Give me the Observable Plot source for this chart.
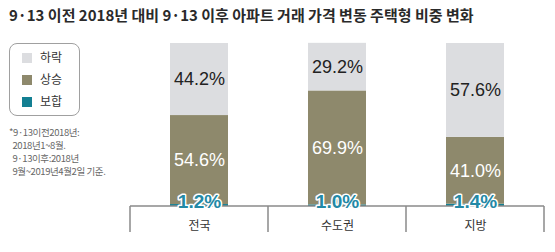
<!DOCTYPE html>
<html><head><meta charset="utf-8">
<script src="https://cdn.jsdelivr.net/npm/d3@7"></script>
<script src="https://cdn.jsdelivr.net/npm/@observablehq/plot@0.6"></script>
<style>
body{margin:0;background:#fff;font-family:"Noto Sans CJK KR","Noto Sans",sans-serif;}
#wrap{position:relative;width:555px;height:252px;overflow:hidden;}
#title{height:30px;line-height:29px;padding-left:9px;font-size:15px;font-weight:bold;color:#2a2a2a;letter-spacing:0px;white-space:nowrap;}
#legend{position:absolute;left:9px;top:43px;width:71px;height:73px;border:1px solid #a0a0a0;border-radius:8px;box-sizing:border-box;}
.li{position:absolute;left:12px;height:14px;font-size:12px;line-height:14px;color:#333;}
.li span{display:inline-block;width:10px;height:10px;margin-right:8px;vertical-align:-1px;}
#note{position:absolute;left:9px;top:126px;font-size:9.5px;line-height:13px;color:#666;letter-spacing:-0.4px;white-space:nowrap;}
</style></head>
<body>
<div id="wrap">
<div id="title">9·13 이전 2018년 대비 9·13 이후 아파트 거래 가격 변동 주택형 비중 변화</div>
<div id="chart"></div>
<div id="legend"></div>
<div id="note">*9·13이전2018년:<br>&nbsp;&nbsp;2018년1~8월.<br>&nbsp;&nbsp;9·13이후:2018년<br>&nbsp;&nbsp;9월~2019년4월2일 기준.</div>
</div>
<script>
const regions = ["전국", "수도권", "지방"];
const types = ["보합", "상승", "하락"];
const bohap = [1.2, 1.0, 1.4];
const sangseung = [54.6, 69.9, 41.0];
const harak = [44.2, 29.2, 57.6];
const colors = ["#137f92", "#8e896c", "#dcdde0"];
const legendOrder = ["하락", "상승", "보합"];

const series = [bohap, sangseung, harak];
const data = [];
types.forEach((t, ti) => regions.forEach((r, ri) => data.push({region: r, type: t, value: series[ti][ri]})));

const W = 555, H = 222;
const narrow = '"Liberation Sans Narrow","Arial Narrow","Liberation Sans",sans-serif';

function separators(index, scales, values, dims) {
  const x = scales.x, y = scales.y;
  const step = x.step();
  const g = d3.create("svg:g").attr("stroke", "#8a8a8a").attr("stroke-width", 1.5);
  const edges = regions.map(r => x(r) + x.bandwidth()/2 - step/2);
  edges.push(x(regions[regions.length-1]) + x.bandwidth()/2 + step/2);
  const y0 = y(0);
  g.append("line").attr("x1", edges[0]).attr("x2", edges[edges.length-1]).attr("y1", y0).attr("y2", y0);
  edges.forEach(e => g.append("line").attr("x1", e).attr("x2", e).attr("y1", y0).attr("y2", dims.height - 20));
  return g.node();
}

const chart = Plot.plot({
  width: W, height: H,
  marginLeft: 130, marginRight: 11, marginTop: 13, marginBottom: 46,
  x: {domain: regions, paddingInner: 0.58, paddingOuter: 0.29, axis: null},
  y: {domain: [0, 100], axis: null},
  color: {domain: types, range: colors},
  style: {fontFamily: '"Noto Sans CJK KR",sans-serif', overflow: "visible"},
  marks: [
    Plot.barY(data, Plot.stackY({x: "region", y: "value", fill: "type", order: types})),
    separators,
    Plot.text(data, Plot.stackY({x: "region", y: "value", z: "type", order: types,
      text: d => d.type === "보합" ? "" : d.value.toFixed(1) + "%",
      fill: d => d.type === "하락" ? "#222" : "#fff",
      fontSize: 18, fontFamily: narrow})),
    Plot.text(data.filter(d => d.type === "보합"), {x: "region", y: 0, dy: -5, text: d => d.value.toFixed(1) + "%",
      fill: "#2389a6", stroke: "#fff", strokeWidth: 3, paintOrder: "stroke", fontWeight: "bold", fontSize: 19, fontFamily: narrow}),
    Plot.text(regions, {x: d => d, y: 0, dy: 20, text: d => d, fill: "#333", fontSize: 12})
  ]
});
document.getElementById("chart").appendChild(chart);

const leg = document.getElementById("legend");
legendOrder.forEach((t, i) => {
  const el = document.createElement("div");
  el.className = "li";
  el.style.top = (6 + i * 22) + "px";
  el.innerHTML = `<span style="background:${colors[types.indexOf(t)]}"></span>${t}`;
  leg.appendChild(el);
});
</script>
</body></html>
